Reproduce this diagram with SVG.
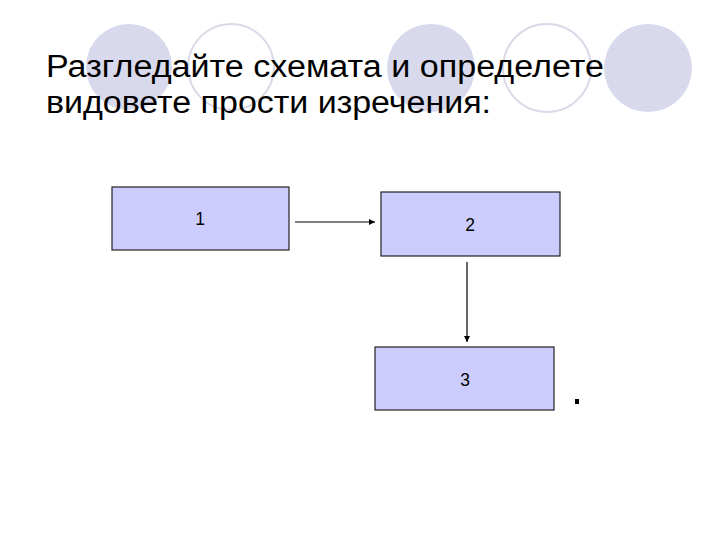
<svg xmlns="http://www.w3.org/2000/svg" width="728" height="546" viewBox="0 0 728 546">
<style>
.dec-fill{fill:#D9D9ED;stroke:none}
.dec-ring{fill:none;stroke:#D9D9E8;stroke-width:2}
.title{font-family:"Liberation Sans",Arial,sans-serif;font-size:31px;fill:#000}
.box{fill:#CCCCFF;stroke:#222;stroke-width:1.2}
.lbl{font-family:"Liberation Sans",Arial,sans-serif;font-size:17.5px;fill:#000;text-anchor:middle}
.conn{stroke:#000;stroke-width:1.2;fill:none}
</style>
<defs>
<marker id="ah" viewBox="0 0 10 10" refX="10" refY="5" markerWidth="6" markerHeight="6" markerUnits="userSpaceOnUse" orient="auto">
<path d="M0,0 L10,5 L0,10 z" fill="#000"/>
</marker>
</defs>
<rect width="728" height="546" fill="#fff"/>
<g id="decor">
<circle class="dec-fill" cx="129" cy="67" r="43"/>
<circle class="dec-ring" cx="231" cy="67" r="43"/>
<circle class="dec-fill" cx="431" cy="68" r="44"/>
<circle class="dec-ring" cx="547" cy="68" r="44"/>
<circle class="dec-fill" cx="648" cy="68" r="44"/>
</g>
<g id="title">
<text class="title" x="46" y="77" textLength="558" lengthAdjust="spacingAndGlyphs">Разгледайте схемата и определете</text>
<text class="title" x="46" y="113" textLength="445" lengthAdjust="spacingAndGlyphs">видовете прости изречения:</text>
</g>
<g id="node1">
<rect class="box" x="112" y="187" width="177" height="63"/>
<text class="lbl" x="200" y="225">1</text>
</g>
<g id="node2">
<rect class="box" x="381" y="192" width="179" height="64"/>
<text class="lbl" x="470" y="231">2</text>
</g>
<g id="node3">
<rect class="box" x="375" y="347" width="179" height="63"/>
<text class="lbl" x="465" y="386">3</text>
</g>
<g id="connectors">
<line class="conn" x1="295" y1="222" x2="375" y2="222" marker-end="url(#ah)"/>
<line class="conn" x1="467" y1="262" x2="467" y2="342" marker-end="url(#ah)"/>
</g>
<rect x="575" y="399" width="4" height="5" fill="#000"/>
</svg>
